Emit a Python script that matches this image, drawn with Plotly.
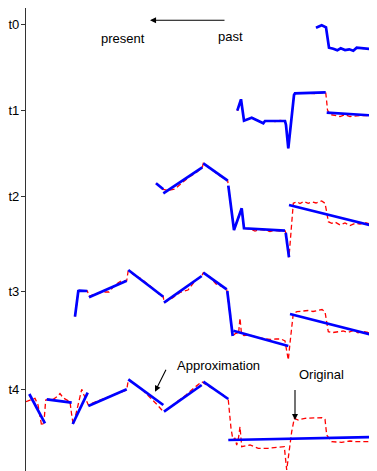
import plotly.graph_objects as go

# ---------------- data (picture coordinates: x = time position, y = row-relative level) -------------
row_labels = ["t0", "t1", "t2", "t3", "t4"]
row_levels = [24, 110, 196, 291.7, 389.3]

# Original series per row (red dashed)
orig_x_t0 = [316, 321.7, 326, 327.5, 329, 333.3, 337.3, 340.7, 345, 349.3, 353.3, 356.7, 362, 368, 376.7]
orig_y_t0 = [27.7, 25.3, 27.3, 37, 47.7, 48.7, 50.3, 48.3, 50, 49.3, 50.7, 47.7, 48.5, 49, 49.7]

orig_x_t1 = [237.3, 241, 244, 251.7, 257, 263.3, 265, 270, 275, 280, 285, 286, 288.3, 291, 294, 295,
             305, 315, 325.7, 326.7, 327.5, 330, 335, 340, 345, 350, 360, 376.7]
orig_y_t1 = [110.7, 99.3, 120.7, 117.7, 120, 123.3, 121, 120.5, 121.5, 120.5, 121, 125, 148.3, 120, 95, 93.3,
             93, 93.5, 92.3, 101.7, 110, 114.5, 115.5, 116.5, 114.8, 116.5, 115.5, 116]

orig_x_t2 = [156, 160, 163.3, 168, 175, 183, 190, 197, 202.3, 203.3, 210, 215, 220, 224, 227.7, 228.3, 231,
             234, 238, 241.7, 244, 250, 255, 260, 265, 270, 275, 280, 285, 285.7, 289, 291, 293.3, 296.7,
             300, 304, 308.3, 312, 316, 321.7, 325, 326.7, 328.3, 331.7, 335, 340, 345, 350, 355, 360,
             365, 370, 376.7]
orig_y_t2 = [183.3, 186.5, 189.3, 190.5, 189, 182, 176.5, 172, 167.3, 163.3, 168.5, 172, 176, 178, 180.7, 185.7,
             208, 230, 218, 208.3, 228.3, 229, 231, 229.5, 230, 231.5, 230.5, 231, 230.7, 232.7, 257.3, 230,
             203.3, 201.7, 203.5, 201.5, 203.3, 202, 203, 201, 203.3, 212, 221.7, 223.3, 222, 225, 223,
             225.5, 223.3, 224, 222.5, 224, 223.5]

orig_x_t3 = [75, 78.3, 79.3, 87.3, 89.3, 93, 97.5, 103, 109, 115, 121, 126.7, 128.3, 134, 141.5, 148, 155,
             160.5, 163.3, 164, 172.5, 180, 188, 195, 201.7, 203.3, 210, 216, 222, 226.7, 229.5, 232.7,
             236, 238.5, 240, 241.5, 244, 250, 257, 263, 270, 276, 281, 285, 288.3, 290, 293.3, 297, 302,
             308, 313, 318, 322, 325, 326.7, 328.3, 332, 337, 343, 348, 353, 358, 363, 368, 373, 376.7]
orig_y_t3 = [316.7, 291, 290.7, 291, 296, 295, 293.3, 292, 292, 285, 281, 280.7, 270, 275, 279, 284, 290,
             295.5, 296.7, 302.7, 298, 292.5, 290, 281, 276, 272.7, 277, 284, 286.5, 289.3, 312, 336,
             333, 334, 318, 334, 335.5, 335, 337.5, 338.5, 339.5, 339, 339, 341, 360, 343, 313.3, 311.7, 311,
             310.5, 311.5, 310, 309.5, 311.7, 323.3, 331.7, 332.7, 332, 331, 332.5, 330.7, 332.7, 331.5, 332.5,
             333, 332.5]

orig_x_t4 = [26, 31.7, 35, 38, 40, 41.7, 44, 45.7, 50, 53.3, 58, 60, 63.3, 67, 70, 71.7, 73.3, 77.3, 81.7,
             84, 88.3, 95, 103, 110, 118, 126.7, 128.3, 135, 143, 150, 157, 163.3, 170, 178, 186, 194,
             201.7, 208, 215, 222, 228.3, 231, 233, 235, 236.7, 238.5, 240, 241.7, 250, 258.3, 268.3, 278.3,
             284.3, 286.7, 291.7, 294.3, 298.3, 305, 313.3, 321.7, 325, 326.7, 331.7, 341.7, 350, 356.7,
             368.3, 376.7]
orig_y_t4 = [401.7, 399.3, 398.3, 405, 416.7, 426, 421.7, 400, 399, 399.3, 396, 393.5, 398, 400.5, 401.7, 415,
             425, 408.3, 389.3, 395, 405, 402, 399, 397, 394, 390, 380, 384, 390.5, 397, 404.5, 411.7, 408,
             401, 395, 388, 381.7, 386, 390, 394, 400, 428.3, 440, 438, 445, 438, 426.7, 446.7, 445, 448.3,
             448.3, 447.7, 446.7, 470, 431.7, 418.3, 420, 418.3, 418.3, 417.7, 419.3, 435, 441.7, 442.3, 441,
             441.7, 441.7, 441]

# Piecewise-linear approximation per row (blue): list of polylines [(x, y), ...]
approx_t0 = [[(316, 27.7), (321.7, 25.3), (326, 27.3), (329, 47.7), (333.3, 48.7), (337.3, 50.3),
              (340.7, 48.3), (345, 50), (349.3, 49.3), (353.3, 50.7), (356.7, 47.7), (376.7, 49.7)]]
approx_t1 = [[(237.3, 110.7), (241, 99.3), (244, 120.7), (251.7, 117.7), (263.3, 123.3), (265, 121),
              (285, 121), (286, 125), (288.3, 148.3), (294, 95), (295, 93.3), (325.7, 92.3)],
             [(326.7, 112.7), (376.7, 115.7)]]
approx_t2 = [[(156, 183.3), (163.3, 189.3)],
             [(163.3, 193.3), (202.3, 167.3)],
             [(203.3, 163.3), (227.7, 180.7)],
             [(228.3, 185.7), (234, 230), (241.7, 208.3), (244, 228.3), (285, 230.7)],
             [(285.7, 232.7), (289, 257.3)],
             [(289, 205), (376.7, 226.7)]]
approx_t3 = [[(75, 316.7), (78.3, 291), (79.3, 290.7), (87.3, 291)],
             [(89, 297.3), (126.7, 280.7)],
             [(128.3, 270), (163.3, 296.7)],
             [(164, 302.7), (201.7, 276)],
             [(203.3, 272.7), (226.7, 289.3)],
             [(227.3, 291), (232.7, 336)],
             [(233.3, 330.7), (288.3, 346)],
             [(290, 314), (376.7, 336)]]
approx_t4 = [[(29.3, 394), (45, 423.3)],
             [(46.7, 399.3), (71.7, 402.7)],
             [(72.7, 424), (87.7, 392.7)],
             [(88.3, 406), (126.7, 389.3)],
             [(128.3, 379.3), (163.3, 405)],
             [(164, 411.7), (201.7, 385)],
             [(203.3, 381.7), (228.3, 399)],
             [(228.3, 440), (376.7, 437)]]

originals = [(orig_x_t0, orig_y_t0), (orig_x_t1, orig_y_t1), (orig_x_t2, orig_y_t2),
             (orig_x_t3, orig_y_t3), (orig_x_t4, orig_y_t4)]
approximations = [approx_t0, approx_t1, approx_t2, approx_t3, approx_t4]

# ---------------- figure ----------------
fig = go.Figure()

for ox, oy in originals:
    fig.add_trace(go.Scatter(x=ox, y=oy, mode="lines",
                             line=dict(color="#ff0000", width=1.3, dash="5px,3px"),
                             hoverinfo="skip", showlegend=False, cliponaxis=False))

for segs in approximations:
    xs, ys = [], []
    for poly in segs:
        xs += [p[0] for p in poly] + [None]
        ys += [p[1] for p in poly] + [None]
    fig.add_trace(go.Scatter(x=xs, y=ys, mode="lines",
                             line=dict(color="#0000ff", width=2.7),
                             hoverinfo="skip", showlegend=False, cliponaxis=False))

font = dict(family="Liberation Sans, Arial, sans-serif", size=13, color="black")

texts = [("present", 123, 38), ("past", 230, 36), ("Approximation", 218, 365), ("Original", 321, 374.5)]
for t, x, y in texts:
    fig.add_annotation(x=x, y=y, text=t, showarrow=False, font=font, xanchor="center", yanchor="middle")

arrows = [((226, 20.3), (150, 20.3)), ((166.7, 368.3), (155, 391.7)), ((295, 388.5), (295, 420))]
for (tx, ty), (hx, hy) in arrows:
    fig.add_annotation(x=hx, y=hy, ax=tx, ay=ty, xref="x", yref="y", axref="x", ayref="y",
                       text="", showarrow=True, arrowhead=2, arrowsize=1.1, arrowwidth=1.1,
                       arrowcolor="black")

# the page body adds an 8px margin, so the figure is 8px smaller and its margins 8px narrower
fig.update_layout(
    width=369, height=463,
    margin=dict(l=18, r=0, t=0, b=0, pad=0, autoexpand=False),
    paper_bgcolor="white", plot_bgcolor="white",
    font=font,
    xaxis=dict(range=[26, 377], visible=False, showgrid=False, zeroline=False, automargin=False),
    yaxis=dict(range=[471, 8], tickvals=row_levels, ticktext=row_labels, automargin=False,
               showgrid=False, zeroline=False, showline=True, linecolor="#333333", linewidth=1.3,
               ticks="outside", ticklen=4, tickcolor="#333333", tickwidth=1, tickfont=font,
               ticklabelstandoff=-1),
)

fig.write_html("out.html")
